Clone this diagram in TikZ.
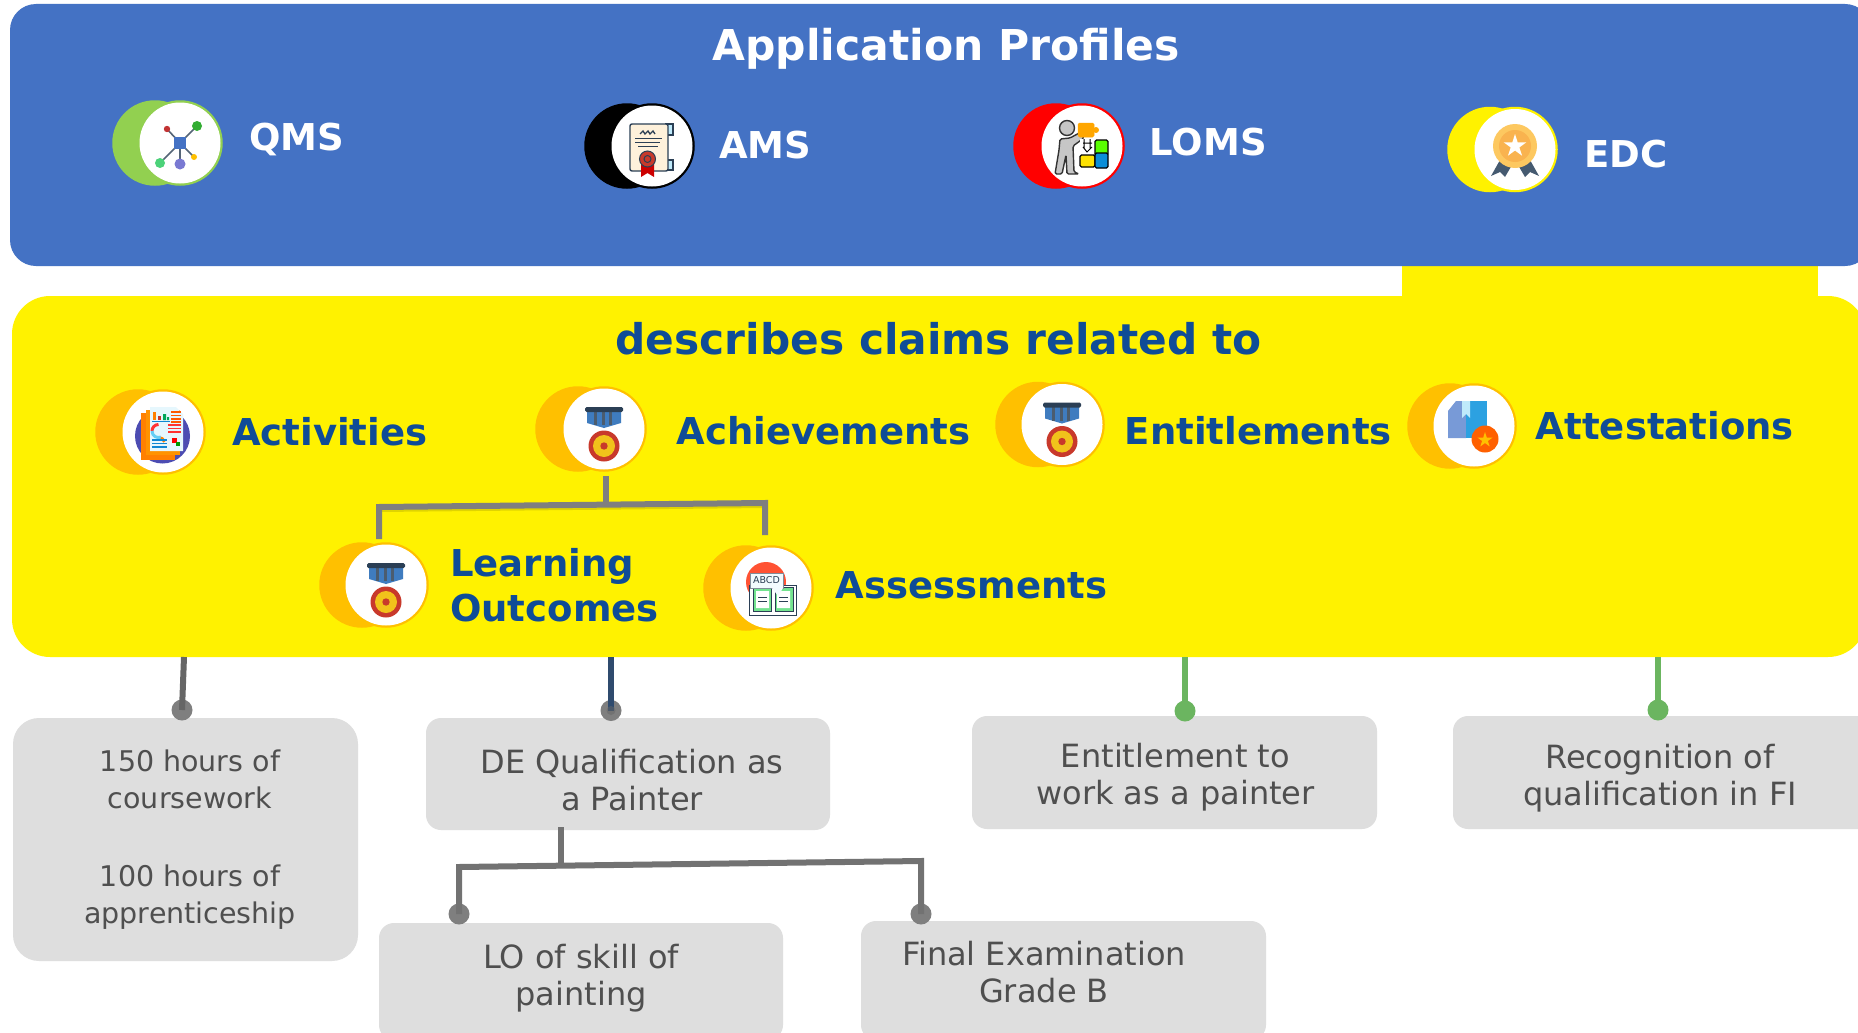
\documentclass[tikz,border=0pt]{standalone}
\usepackage{fontspec}
\setmainfont{DejaVu Sans}
\definecolor{bluepanel}{HTML}{4472C4}
\definecolor{yellowpanel}{HTML}{FFF200}
\definecolor{navytext}{HTML}{0F4C97}
\definecolor{orangering}{HTML}{FFC000}
\definecolor{greenring}{HTML}{92D050}
\definecolor{greybox}{HTML}{DEDEDE}
\definecolor{greytext}{HTML}{4F4F4F}
\definecolor{linegrey}{HTML}{7F7F7F}
\definecolor{linedark}{HTML}{2F4B6E}
\definecolor{linegreen}{HTML}{6BB560}
\definecolor{dotgrey}{HTML}{7F7F7F}
\definecolor{medaldark}{HTML}{2B3F55}
\definecolor{medalblue}{HTML}{3F7CBF}
\definecolor{medalred}{HTML}{C8392B}
\definecolor{medalyellow}{HTML}{F1C21B}
\tikzset{
 panel/.style={rectangle,inner sep=0pt,outer sep=0pt},
 boxshape/.style={rectangle,fill=greybox,inner sep=0pt,outer sep=0pt},
 boxtext/.style={align=center,text=greytext,inner sep=0pt,font=\fontsize{32}{37}\selectfont,execute at begin node=\strut,execute at end node=\strut},
 boxtextsmall/.style={boxtext,font=\fontsize{28.5}{37}\selectfont},
 titlewhite/.style={anchor=base,text=white,inner sep=0pt,font=\bfseries\fontsize{42.5}{48}\selectfont},
 labelwhite/.style={anchor=base west,text=white,inner sep=0pt,font=\bfseries\fontsize{37}{45}\selectfont},
 labelnavy/.style={anchor=base west,text=navytext,inner sep=0pt,font=\bfseries\fontsize{37}{45}\selectfont},
 headnavy/.style={anchor=base,text=navytext,inner sep=0pt,font=\bfseries\fontsize{42.3}{48}\selectfont},
 backdisc/.style={circle,inner sep=0pt,minimum size=85.5pt},
 frontdisc/.style={circle,inner sep=0pt,minimum size=81pt,fill=white},
 treeline/.style={draw=linegrey,line width=6pt,line join=miter},
 stem/.style={line width=6pt},
 enddot/.style={circle,inner sep=0pt,minimum size=21pt,fill=#1},
}
\newcommand{\badge}[5]{% name, x, y, colour, back x
 \node[backdisc,fill=#4] (#1back) at (#5,#3) {};
 \node[backdisc,fill=#4] (#1ring) at (#2,#3) {};
 \node[frontdisc] (#1) at (#2,#3) {};
}
\newcommand{\starpath}[4]{% x,y,r,colour
 \fill[#4,shift={(#1,#2)}] (0,-#3) -- (.22*#3,-.31*#3) -- (.95*#3,-.31*#3) -- (.36*#3,.12*#3) -- (.59*#3,.81*#3) -- (0,.38*#3) -- (-.59*#3,.81*#3) -- (-.36*#3,.12*#3) -- (-.95*#3,-.31*#3) -- (-.22*#3,-.31*#3) -- cycle;
}
\newcommand{\medalicon}[2]{%
 \begin{scope}[shift={(#1,#2)}]
 \fill[medalblue] (-17,-18) -- (17,-18) -- (17,-6) -- (0,-1) -- (-17,-6) -- cycle;
 \foreach \sx in {-10,-2.5,5} \fill[medaldark!85] (\sx,-18) rectangle (\sx+3.2,-4);
 \fill[medaldark,rounded corners=1.5pt] (-19,-22) rectangle (19,-17);
 \fill[medalred] (0,17) circle (15.5);
 \fill[medalyellow] (0,17) circle (11);
 \fill[medalred] (0,17) circle (3.7);
 \end{scope}
}
\begin{document}
\begin{tikzpicture}[x=1pt,y=-1pt]
\useasboundingbox (0,0) rectangle (1858,1033);
\fill[white] (0,0) rectangle (1858,1033);

% panels: x 10..1871, y 4..266
\node[panel,fill=yellowpanel,minimum width=416pt,minimum height=34pt] (tab) at (1610,281) {};
\node[panel,fill=bluepanel,rounded corners=26pt,minimum width=1861pt,minimum height=262pt] (bluep) at (940.5,135) {};
\node[panel,fill=yellowpanel,rounded corners=38pt,minimum width=1854pt,minimum height=361pt] (yellowp) at (939,476.5) {};

% titles
\node[titlewhite] (title) at (946,61) {Application Profiles};
\node[headnavy] (head) at (938.5,354) {describes claims related to};

% application profile badges
\badge{qms}{180}{143}{greenring}{155}
\badge{ams}{652}{146}{black}{627}
\badge{loms}{1082}{146}{red}{1056}
\badge{edc}{1515}{149.5}{yellowpanel}{1490}
\node[labelwhite] (qmst) at (249,150) {QMS};
\node[labelwhite] (amst) at (719,158) {AMS};
\node[labelwhite] (lomst) at (1149.5,155) {LOMS};
\node[labelwhite] (edct) at (1584,167) {EDC};

% QMS icon
\draw[line width=1.6pt,draw=medaldark!80] (197,126) -- (180,143) (167,129) -- (180,143) (160,163) -- (180,143) (180,164) -- (180,143) (194,157) -- (180,143);
\fill[bluepanel] (174,137) rectangle (186,149);
\fill[green!60!black!80] (197,126) circle (5);
\fill[red!70!black!80] (167,129) circle (3.2);
\fill[teal!50!green!70] (160,163) circle (5);
\fill[blue!50!gray!70] (180,164) circle (5.5);
\fill[orangering] (194,157) circle (3);

% AMS icon
\fill[cyan!25] (666,124) rectangle (673,135) (666,160) rectangle (673,170);
\draw[medaldark,line width=1.3pt] (666,124) rectangle (673,135) (666,160) rectangle (673,170);
\draw[fill=yellow!15!orange!12,draw=medaldark,line width=1.4pt,rounded corners=2pt] (630,124) rectangle (668,171);
\draw[medaldark,line width=1.3pt] (640,134) -- (643,131) -- (645,134) -- (648,131) -- (650,134) -- (653,131) -- (655,134);
\draw[medaldark,line width=1.5pt] (635,138.5) -- (662,138.5) (635,142.5) -- (660,142.5) (638,146.5) -- (658,146.5);
\fill[red!80!black] (641,160) -- (654,160) -- (654,177) -- (647.5,173) -- (641,177) -- cycle;
\draw[fill=medalred,draw=medaldark,line width=1pt] (647.5,159) circle (8);
\draw[draw=medaldark,line width=1pt] (647.5,159) circle (3.5);

% LOMS icon
\draw[fill=gray!45,draw=black!80,line width=1.4pt] (1067,128) circle (7.5);
\draw[fill=gray!45,draw=black!80,line width=1.4pt,rounded corners=1.5pt] (1060,139) -- (1070,138) -- (1081,132) -- (1084,138) -- (1073,146) -- (1074,172) -- (1079,174) -- (1067,174) -- (1066,155) -- (1062,174) -- (1055,174) -- (1059,150) -- cycle;
\draw[fill=orange!70!yellow,draw=orange!70!yellow,line width=.5pt,rounded corners=1.5pt] (1078,123) rectangle (1094,137);
\fill[orange!70!yellow] (1096,130) circle (3);
\draw[fill=green!65!yellow,draw=black,line width=1.2pt,rounded corners=1.5pt] (1095,140) rectangle (1108,155);
\draw[fill=yellow!85!orange,draw=black,line width=1.2pt,rounded corners=1.5pt] (1080,155) rectangle (1095,167);
\draw[fill=cyan!75!blue,draw=black,line width=1.2pt,rounded corners=1.5pt] (1095,153) rectangle (1108,168);
\fill[white] (1080,139) rectangle (1094,152);
\draw[black,line width=1pt] (1084,139) -- (1084,148) (1090,139) -- (1090,148) (1083,143) -- (1092,143) (1083,147) -- (1087,152) -- (1092,147);

% EDC icon
\definecolor{edcrib}{HTML}{455A70}
\definecolor{edcouter}{HTML}{FDC860}
\definecolor{edcinner}{HTML}{F9B34F}
\fill[edcrib] (1500,160) -- (1491,176) -- (1500,172) -- (1505,177) -- (1512,165) -- cycle;
\fill[edcrib] (1530,160) -- (1539,176) -- (1530,172) -- (1525,177) -- (1518,165) -- cycle;
\fill[edcouter] (1515,146) circle (22);
\fill[edcinner] (1515,146) circle (16);
\starpath{1515}{146}{12}{white}

% claim badges
\badge{act}{163}{432}{orangering}{138}
\badge{ach}{604}{429}{orangering}{578}
\badge{ent}{1062}{424.5}{orangering}{1038}
\badge{att}{1474}{426}{orangering}{1450}
\badge{lo}{386}{585}{orangering}{362}
\badge{asm}{771}{588}{orangering}{746}
\node[labelnavy] (actt) at (232,445) {Activities};
\node[labelnavy] (acht) at (676.5,444) {Achievements};
\node[labelnavy] (entt) at (1124.6,444) {Entitlements};
\node[labelnavy] (attt) at (1535.7,439) {Attestations};
\node[labelnavy,align=left,anchor=west] (lot) at (450,585) {Learning\\Outcomes};
\node[labelnavy] (asmt) at (835.5,598) {Assessments};

% Activities icon
\fill[blue!40!gray] (162.5,436) circle (27.5);
\fill[orange] (141,413) rectangle (175,460);
\fill[orange!85!yellow] (146,410) rectangle (180,455);
\fill[cyan!10] (150,407) -- (176,407) -- (183,414) -- (183,451) -- (150,451) -- cycle;
\fill[orange] (153,412) rectangle (156,420);
\fill[medalred] (158,416) rectangle (161,420);
\fill[teal!70!green] (163,414) rectangle (166,420) (167,417) rectangle (169,420);
\draw[cyan!70!blue,line width=1pt] (152,421) -- (170,421);
\draw[orange!70!red,line width=1.3pt] (171,412) -- (181,412) (171,415.5) -- (181,415.5) (171,419) -- (181,419) (171,422) -- (181,422);
\draw[red!80,line width=3pt] (152,431) arc (180:270:6.5);
\draw[orange,line width=3pt] (158.5,437.5) arc (270:340:6.5);
\draw[cyan!60,line width=3pt] (152,431) arc (180:70:6.5);
\draw[red!80,line width=1.5pt] (168,425) -- (181,425) (168,428.5) -- (181,428.5) (168,432) -- (181,432);
\draw[cyan!70!blue,line width=1.3pt] (152,440) -- (167,440) (152,443.5) -- (167,443.5) (152,447) -- (167,447);
\fill[red] (172,438) rectangle (177,443);
\fill[green!60!black] (176,442) rectangle (180,446);

% medal icons
\medalicon{604}{429}
\medalicon{1062}{424.5}
\medalicon{386}{585}

% Attestations icon
\fill[cyan!45!blue!55] (1448,411) -- (1456,401) -- (1466,401) -- (1466,438) -- (1448,438) -- cycle;
\fill[cyan!80!blue!85] (1466,401) rectangle (1487,438);
\fill[cyan!25] (1462,401) -- (1470,401) -- (1470,418) -- (1466,414) -- (1462,418) -- cycle;
\fill[orange!75!red] (1485,439) circle (13.5);
\starpath{1485}{440}{8}{orangering}

% Assessments icon
\fill[red!70!orange!80] (766,582) circle (20);
\draw[fill=white,draw=medaldark,line width=1pt] (749,585) rectangle (796,615);
\draw[fill=teal!40!green!55,draw=medaldark,line width=1pt] (753,587) rectangle (771,611) (775,587) rectangle (793,611);
\fill[white] (756,591) rectangle (769,608) (777,591) rectangle (790,608);
\draw[medaldark,line width=1pt] (758,597) -- (767,597) (758,601) -- (767,601) (779,597) -- (788,597) (779,601) -- (788,601);
\draw[fill=white!95!cyan,draw=medaldark!60,line width=.8pt] (750,573) rectangle (783,588);
\fill[white!95!cyan] (772,588) -- (783,588) -- (778,596) -- cycle;
\node[inner sep=0pt,text=medaldark,font=\fontsize{9.5}{11}\selectfont] (abcd) at (766.5,580.5) {ABCD};

% achievement tree
\coordinate (achj) at (606,505);
\coordinate (achl) at (379,507);
\coordinate (achr) at (765,503);
\coordinate (lotop) at (379,539);
\coordinate (asmtop) at (765,535);
\coordinate (achfoot) at (606,476);
\draw[treeline,draw=black,opacity=.12,transform canvas={yshift=-2pt}] (achl) -- (achr);
\draw[treeline] (achfoot) -- (achj);
\draw[treeline] (lotop) -- (achl) -- (achr) -- (asmtop);

% claim boxes
\node[boxshape,rounded corners=26pt,minimum width=345pt,minimum height=243pt] (b1) at (185.5,839.5) {};
\node[boxshape,rounded corners=15pt,minimum width=404pt,minimum height=112pt] (b2) at (628,774) {};
\node[boxshape,rounded corners=15pt,minimum width=405pt,minimum height=113pt] (b3) at (1174.5,772.5) {};
\node[boxshape,rounded corners=15pt,minimum width=427pt,minimum height=113pt] (b4) at (1666.5,772.5) {};
\node[boxshape,rounded corners=15pt,minimum width=404pt,minimum height=117pt] (b5) at (581,981.5) {};
\node[boxshape,rounded corners=15pt,minimum width=405pt,minimum height=119pt] (b6) at (1063.5,980.5) {};

\node[boxtextsmall] (t1) at (190,842) {150 hours of\\coursework\\[41pt]100 hours of\\apprenticeship};
\node[boxtext] (t2) at (632,785.5) {DE Qualification as\\a Painter};
\node[boxtext] (t3) at (1175.5,779) {Entitlement to\\work as a painter};
\node[boxtext] (t4) at (1660,780) {Recognition of\\qualification in FI};
\node[boxtext] (t5) at (581,980) {LO of skill of\\painting};
\node[boxtext] (t6) at (1044,977) {Final Examination\\Grade B};

% stems from the yellow panel
\coordinate (s1) at (184,657);
\coordinate (s2) at (611,657);
\coordinate (s3) at (1185,657);
\coordinate (s4) at (1658,657);
\node[enddot=dotgrey] (d1) at (182,710) {};
\node[enddot=dotgrey] (d2) at (611,710.5) {};
\node[enddot=linegreen] (d3) at (1185,711) {};
\node[enddot=linegreen] (d4) at (1658,710) {};
\draw[stem,draw=linegrey!80!black] (s1) -- (d1.center);
\draw[stem,draw=linedark] (s2) -- (d2.center);
\draw[stem,draw=linegreen] (s3) -- (d3.center);
\draw[stem,draw=linegreen] (s4) -- (d4.center);
\fill[black!60,opacity=.5] (d2.center) circle (4.5);

% sub tree
\coordinate (subtop) at (561,827);
\coordinate (subj) at (561,864);
\coordinate (subl) at (459,867);
\coordinate (subr) at (921,861);
\node[enddot=dotgrey] (d5) at (459,914) {};
\node[enddot=dotgrey] (d6) at (921,914) {};
\draw[treeline,draw=linegrey!90!black] (subtop) -- (subj);
\draw[treeline,draw=linegrey!90!black] (d5.center) -- (subl) -- (subr) -- (d6.center);
\end{tikzpicture}
\end{document}
